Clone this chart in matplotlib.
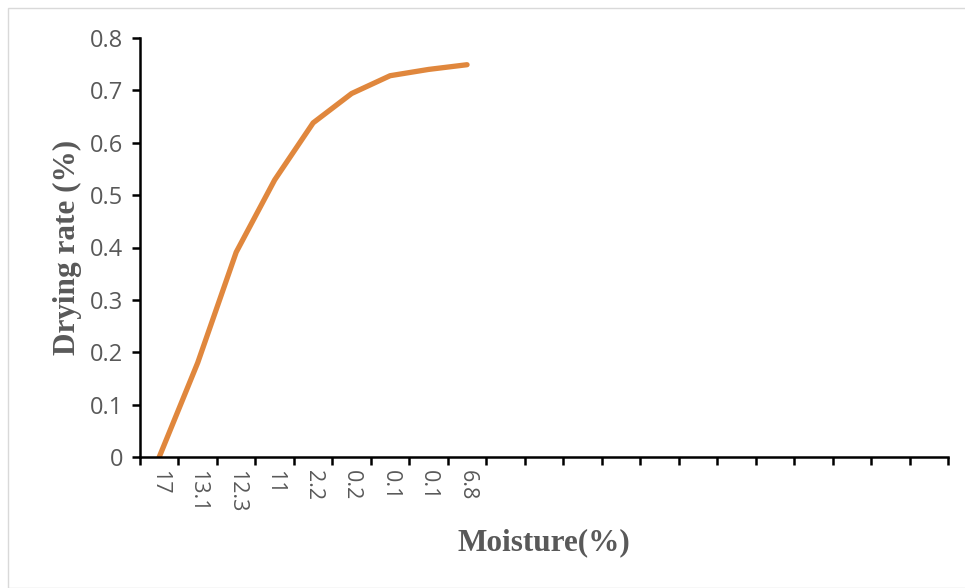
import matplotlib.pyplot as plt
from matplotlib.patches import Rectangle

# Moisture categories (x) and drying rate (y); trailing empty categories keep the axis span
moisture_labels = ["17", "13.1", "12.3", "11", "2.2", "0.2", "0.1", "0.1", "6.8"]
drying_rate = [0.0, 0.18, 0.391, 0.529, 0.638, 0.694, 0.728, 0.740, 0.749]
n_categories = 21
y_ticks = [0, 0.1, 0.2, 0.3, 0.4, 0.5, 0.6, 0.7, 0.8]
y_tick_labels = ["0", "0.1", "0.2", "0.3", "0.4", "0.5", "0.6", "0.7", "0.8"]

W, H = 965, 588
fig = plt.figure(figsize=(W / 100, H / 100), dpi=100)
ax = fig.add_axes([140 / W, 1 - 457 / H, (948 - 140) / W, (457 - 38) / H])

gray = "#595959"
x = list(range(len(drying_rate)))
ax.plot(x, drying_rate, color="#E0873D", lw=3.8, solid_capstyle="round",
        solid_joinstyle="round")

ax.set_xlim(-0.5, n_categories - 0.5)
ax.set_ylim(0, 0.8)

# category labels at centres, tick marks at category boundaries
ax.set_xticks(range(len(moisture_labels)))
ax.set_xticklabels(moisture_labels, rotation=270, color=gray,
                   fontsize=15.5, family="Open Sans", ha="center")
ax.tick_params(axis="x", which="major", length=0, pad=9)
ax.set_xticks([i - 0.5 for i in range(n_categories + 1)], minor=True)
ax.tick_params(axis="x", which="minor", length=6, width=1.8, direction="out",
               color="black")

ax.set_yticks(y_ticks)
ax.set_yticklabels(y_tick_labels, color=gray, fontsize=17, family="Open Sans")
ax.tick_params(axis="y", length=6, width=1.8, direction="out", pad=6,
               color="black")

for side in ("top", "right"):
    ax.spines[side].set_visible(False)
for side in ("left", "bottom"):
    ax.spines[side].set_linewidth(1.8)
    ax.spines[side].set_color("black")

ax.set_xlabel("Moisture(%)", fontsize=22.5, fontweight="bold",
              family="Liberation Serif", color=gray, labelpad=12)
ax.set_ylabel("Drying rate (%)", fontsize=22.5, fontweight="bold",
              family="Liberation Serif", color=gray, labelpad=6)

# light outer frame around the chart area
fig.patches.append(Rectangle((8 / W, 0), 1, 1 - 8 / H, transform=fig.transFigure,
                             fill=False, edgecolor="#D9D9D9", lw=1))

fig.savefig("out.png", dpi=100)
